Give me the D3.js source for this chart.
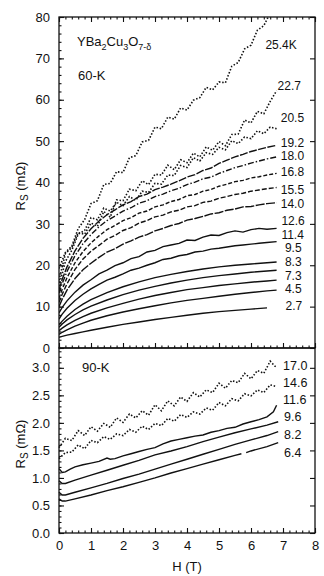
<!DOCTYPE html>
<html>
<head>
<meta charset="utf-8">
<script src="https://cdn.jsdelivr.net/npm/d3@7"></script>
<style>
  body { margin: 0; background: #fff; }
  text { font-family: "Liberation Sans", Arial, sans-serif; fill: #111; }
</style>
</head>
<body>
<div id="chart"></div>
<script>
//*************************1. Data

// field grids (T)
const hTop = [0,0.1,0.25,0.5,0.75,1,1.5,2,2.5,3,3.5,4,4.5,5,5.5,6,6.5,6.8]
const hFine = [0,0.1,0.25,0.5,0.75,1,1.25,1.5,1.75,2,2.25,2.5,2.75,3,3.25,3.5,3.75,4,4.25,4.5,4.75,5,5.25,5.5,5.75,6,6.25,6.5,6.8]
const hDot = [0,0.2,0.4,0.6,0.8,1,1.2,1.4,1.6,1.8,2,2.2,2.4,2.6,2.8,3,3.2,3.4,3.6,3.8,4,4.2,4.4,4.6,4.8,5,5.2,5.4,5.6,5.8,6,6.2,6.4,6.6,6.8]
const hBot = [0,0.1,0.2,0.5,1,1.5,2,2.5,3,3.5,4,4.5,5,5.5,6,6.5,6.85]
const hBot64 = [0,0.1,0.2,0.5,1,1.5,2,2.5,3,3.5,4,4.5,5,5.5,5.7,5.75,5.85,6,6.5,6.85]
const hBotFine = [0,0.1,0.2,0.35,0.5,0.75,1,1.25,1.5,1.6,1.75,2,2.25,2.5,2.75,3,3.25,3.5,3.75,4,4.25,4.5,4.75,5,5.25,5.5,5.75,6,6.25,6.5,6.7,6.8]

// 60-K film, Rs in mOhm
const rs27 = [2.6,2.8,3.1,3.5,3.9,4.3,5.0,5.7,6.3,6.9,7.4,7.9,8.4,8.8,9.1,9.4,9.7,null]
const rs45 = [3.3,3.8,4.4,5.3,6.0,6.7,7.8,8.7,9.5,10.2,10.9,11.5,12.0,12.5,13.0,13.4,13.8,14.0]
const rs73 = [4.2,4.8,5.6,6.7,7.6,8.4,9.7,10.8,11.8,12.7,13.4,14.1,14.6,15.1,15.5,15.9,16.2,16.4]
const rs83 = [5.0,5.8,6.8,8.1,9.2,10.1,11.6,12.9,14.0,14.9,15.7,16.4,17.0,17.5,17.9,18.3,18.6,18.8]
const rs95 = [5.6,6.5,7.7,9.3,10.6,11.7,13.4,14.8,16.0,17.0,17.8,18.5,19.1,19.6,20.0,20.3,20.6,20.8]
const rs114 = [7.0,8.2,9.6,11.5,13.0,14.3,15.4,16.4,17.1,17.9,18.8,19.3,20.0,20.6,21.4,21.7,22.3,22.6,23.2,23.4,23.9,24.1,24.4,24.7,24.9,25.1,25.3,25.5,25.7]
const rs126 = [8.5,9.8,11.4,13.5,15.2,16.5,17.9,18.8,19.9,20.6,21.6,22.1,23.2,23.6,24.5,24.9,25.3,26.1,26.0,26.8,27.3,27.2,27.9,28.3,28.0,28.6,28.9,28.7,28.9]
const rs140 = [10,11.8,14.0,16.8,18.9,20.5,21.9,23.2,24.0,25.1,25.9,26.8,27.4,28.3,28.9,29.6,30.1,30.9,31.3,31.8,32.4,32.7,33.3,33.6,34.1,34.2,34.6,34.9,35.1]
const rs155 = [11,13,15.5,19,21.5,23.4,24.8,26.3,27.2,28.4,29.1,30.2,30.8,31.7,32.1,32.9,33.3,34.1,34.4,35.2,35.5,36.2,36.6,37.1,37.4,37.9,38.2,38.5,38.8]
const rs168 = [12,14.2,17.0,20.6,23.3,25.4,27.1,28.6,29.6,30.8,31.5,32.6,33.1,34.1,34.6,35.4,35.9,36.8,37.1,37.9,38.3,39.1,39.6,40.2,40.5,41.1,41.4,41.8,42.2]
const rs180 = [13.2,15.6,18.5,22.3,25.2,27.4,29.3,30.8,31.9,33.1,33.9,35.0,35.6,36.6,37.2,38.0,38.6,39.5,40.1,40.9,41.3,42.2,42.9,43.6,44.1,44.7,45.2,45.7,46.2]
const rs192 = [14,16.6,19.6,23.5,26.5,28.8,30.7,32.2,33.4,34.6,35.4,36.6,37.2,38.3,38.9,39.6,40.4,41.3,41.9,42.9,43.5,44.6,45.4,46.2,46.8,47.5,48.0,48.5,49.0]
const rs205 = [15.0,20.9,23.6,27.5,28.4,31.5,31.0,33.8,33.1,35.2,34.4,36.6,35.7,37.9,37.6,39.8,39.6,41.8,41.7,44.1,43.6,46.0,45.2,47.2,46.8,48.5,47.9,50.1,49.4,51.0,50.6,52.5,51.8,53.4,53.0]
const rs227 = [16.4,22.8,24.3,27.9,27.5,30.2,29.4,33.0,31.6,35.8,35.6,38.4,38.0,40.4,39.5,42.0,41.8,44.2,43.1,45.5,44.8,47.1,46.2,48.6,47.8,49.9,48.9,51.6,51.7,55.1,54.4,57.2,56.6,59.6,62.2]
const rs254 = [19.2,23.1,24.6,28.9,31.0,34.9,35.6,39.5,39.8,42.6,42.4,46.0,46.5,49.8,50.2,53.4,53.0,55.8,55.3,58.0,57.5,59.9,60.5,63.0,62.4,64.3,64.1,68.1,69.0,72.3,73.2,76.8,77.9,81.0,83.0]

// 90-K film
const rs64 = [0.62,0.58,0.58,0.62,0.69,0.77,0.84,0.92,1.0,1.09,1.17,1.25,1.33,1.41,1.44,null,1.46,1.49,1.57,1.64]
const rs82 = [0.74,0.69,0.69,0.74,0.82,0.9,0.99,1.07,1.16,1.25,1.34,1.43,1.52,1.61,1.69,1.77,1.84]
const rs96 = [0.95,0.9,0.9,0.96,1.05,1.14,1.23,1.32,1.42,1.49,1.57,1.66,1.74,1.82,1.89,1.96,2.02]
const rs116 = [1.17,1.1,1.11,1.16,1.2,1.24,1.27,1.3,1.36,1.34,1.35,1.4,1.44,1.48,1.52,1.55,1.62,1.67,1.7,1.73,1.76,1.78,1.83,1.86,1.9,1.92,1.98,2.02,2.06,2.11,2.2,2.32]
const rs146 = [1.35,1.46,1.47,1.6,1.53,1.68,1.64,1.75,1.7,1.8,1.77,1.88,1.83,1.94,1.88,1.99,1.95,2.08,2.03,2.15,2.1,2.2,2.16,2.27,2.23,2.37,2.31,2.44,2.4,2.53,2.49,2.6,2.55,2.69,2.66]
const rs170 = [1.55,1.72,1.68,1.86,1.77,1.93,1.85,1.99,1.92,2.09,2.01,2.16,2.09,2.22,2.14,2.33,2.22,2.4,2.31,2.47,2.39,2.55,2.47,2.6,2.55,2.72,2.63,2.77,2.73,2.9,2.8,2.95,2.9,3.12,3.0]

// curve labels (temperature, K) and where they sit (T, mOhm)
const topLabels = ["25.4K","22.7","20.5","19.2","18.0","16.8","15.5","14.0","12.6","11.4","9.5","8.3","7.3","4.5","2.7"]
const topLabelH = [6.45,6.83,6.93,6.93,6.93,6.93,6.93,6.93,6.95,6.95,7.06,7.06,7.06,7.06,7.08]
const topLabelRs = [73.4,63.5,55.6,49.7,46.5,42.6,38.3,35.0,30.7,27.4,24.2,20.9,17.6,14.4,10.3]
const botLabels = ["17.0","14.6","11.6","9.6","8.2","6.4"]
const botLabelH = [7.0,7.0,7.0,7.03,7.03,7.03]
const botLabelRs = [3.05,2.74,2.42,2.11,1.78,1.47]

// tick values
const topMajor = [0,10,20,30,40,50,60,70,80]
const botMajor = [0,0.5,1,1.5,2,2.5,3]
const hMajor = [0,1,2,3,4,5,6,7,8]

//*************************2. Canvas & scales
const width = 324, height = 576

const svg = d3.select("#chart").append("svg")
  .attr("width", width).attr("height", height)

const x = d3.scaleLinear().domain([0, 8]).range([59, 315])
const yTop = d3.scaleLinear().domain([0, 80]).range([348, 17])
const yBot = d3.scaleLinear().domain([0, 3.36]).range([533, 348])

const zip = (h, v) => h.map((d, i) => [d, v[i]])

//*************************3. Curves
const dotted = "1.5,1.8"
const topSeries = [
  {h: hTop, v: rs27, dash: null},
  {h: hTop, v: rs45, dash: null},
  {h: hTop, v: rs73, dash: null},
  {h: hTop, v: rs83, dash: null},
  {h: hTop, v: rs95, dash: null},
  {h: hFine, v: rs114, dash: null},
  {h: hFine, v: rs126, dash: null},
  {h: hFine, v: rs140, dash: "9,1.5"},
  {h: hFine, v: rs155, dash: "5,2"},
  {h: hFine, v: rs168, dash: "4,2"},
  {h: hFine, v: rs180, dash: "6,2,1.5,2"},
  {h: hFine, v: rs192, dash: "8,1.5"},
  {h: hDot, v: rs205, dash: dotted},
  {h: hDot, v: rs227, dash: dotted},
  {h: hDot, v: rs254, dash: dotted}
]
const botSeries = [
  {h: hBot64, v: rs64, dash: null},
  {h: hBot, v: rs82, dash: null},
  {h: hBot, v: rs96, dash: null},
  {h: hBotFine, v: rs116, dash: null},
  {h: hDot, v: rs146, dash: dotted},
  {h: hDot, v: rs170, dash: dotted}
]

svg.append("clipPath").attr("id", "clipTop")
  .append("rect").attr("x", 59).attr("y", 17).attr("width", 256).attr("height", 331)

function drawSeries(series, y, clip) {
  const line = d3.line()
    .defined(d => d[1] != null)
    .x(d => x(d[0]))
    .y(d => y(d[1]))
  const g = svg.append("g")
  if (clip) g.attr("clip-path", "url(#" + clip + ")")
  g.selectAll("path")
    .data(series)
    .join("path")
    .attr("d", s => line(zip(s.h, s.v)))
    .attr("fill", "none")
    .attr("stroke", "#111")
    .attr("stroke-width", s => s.dash === dotted ? 1.6 : 1.4)
    .attr("stroke-dasharray", s => s.dash)
}
drawSeries(topSeries, yTop, "clipTop")
drawSeries(botSeries, yBot, null)

//*************************4. Axes & frames
function frame(y0, y1) {
  svg.append("rect")
    .attr("x", 59).attr("y", y0).attr("width", 256).attr("height", y1 - y0)
    .attr("fill", "none").attr("stroke", "#111").attr("stroke-width", 1.3)
}
frame(17, 348)
frame(348, 533)

function ticks(axis, tx, ty, labels) {
  const g = svg.append("g").attr("transform", `translate(${tx},${ty})`).call(axis)
  g.select(".domain").remove()
  g.selectAll(".tick line").attr("stroke", "#111").attr("stroke-width", 1.1)
  g.selectAll("text").attr("font-size", 13).attr("fill", "#111")
    .style("font-family", '"Liberation Sans", Arial, sans-serif')
  if (!labels) g.selectAll("text").remove()
  return g
}
const minorH = d3.range(0, 8.01, 0.2)

// top panel
ticks(d3.axisLeft(yTop).tickValues(topMajor).tickSize(-5).tickPadding(9), 59, 0, true)
ticks(d3.axisLeft(yTop).tickValues(d3.range(0, 81, 2)).tickSize(-2.5), 59, 0, false)
ticks(d3.axisRight(yTop).tickValues(topMajor).tickSize(-5), 315, 0, false)
ticks(d3.axisTop(x).tickValues(hMajor).tickSize(-5), 0, 17, false)
ticks(d3.axisTop(x).tickValues(minorH).tickSize(-2.5), 0, 17, false)
ticks(d3.axisBottom(x).tickValues(hMajor).tickSize(-5), 0, 348, false)
ticks(d3.axisBottom(x).tickValues(minorH).tickSize(-2.5), 0, 348, false)

// bottom panel
ticks(d3.axisLeft(yBot).tickValues(botMajor).tickSize(-5).tickPadding(9).tickFormat(d3.format(".1f")), 59, 0, true)
ticks(d3.axisLeft(yBot).tickValues(d3.range(0, 3.31, 0.1)).tickSize(-2.5), 59, 0, false)
ticks(d3.axisRight(yBot).tickValues(botMajor).tickSize(-5), 315, 0, false)
ticks(d3.axisBottom(x).tickValues(hMajor).tickSize(-5).tickPadding(8), 0, 533, true)
ticks(d3.axisBottom(x).tickValues(minorH).tickSize(-2.5), 0, 533, false)

//*************************5. Labels
function rsLabel(cx, cy) {
  const t = svg.append("text")
    .attr("transform", `translate(${cx},${cy}) rotate(-90)`)
    .attr("text-anchor", "middle")
    .attr("font-size", 13)
  t.append("tspan").text("R")
  t.append("tspan").attr("font-size", 10).attr("dy", 3).text("S")
  t.append("tspan").attr("dy", -3).text(" (mΩ)")
}
rsLabel(25, 186)
rsLabel(25, 444)

svg.append("text").attr("x", x(4)).attr("y", 571)
  .attr("text-anchor", "middle").attr("font-size", 13).text("H (T)")

const formula = svg.append("text").attr("x", 77).attr("y", 46).attr("font-size", 13)
formula.append("tspan").text("YBa")
formula.append("tspan").attr("font-size", 9).attr("dy", 4).text("2")
formula.append("tspan").attr("dy", -4).text("Cu")
formula.append("tspan").attr("font-size", 9).attr("dy", 4).text("3")
formula.append("tspan").attr("dy", -4).text("O")
formula.append("tspan").attr("font-size", 9).attr("dy", 4).text("7-δ")

svg.append("text").attr("x", 78).attr("y", 80).attr("font-size", 13).text("60-K")
svg.append("text").attr("x", 82).attr("y", 372).attr("font-size", 13).text("90-K")

svg.append("g").selectAll("text")
  .data(topLabels)
  .join("text")
  .attr("x", (d, i) => x(topLabelH[i]))
  .attr("y", (d, i) => yTop(topLabelRs[i]) + 4.5)
  .attr("font-size", 12)
  .text(d => d)

svg.append("g").selectAll("text")
  .data(botLabels)
  .join("text")
  .attr("x", (d, i) => x(botLabelH[i]))
  .attr("y", (d, i) => yBot(botLabelRs[i]) + 4.5)
  .attr("font-size", 12.5)
  .text(d => d)
</script>
</body>
</html>
